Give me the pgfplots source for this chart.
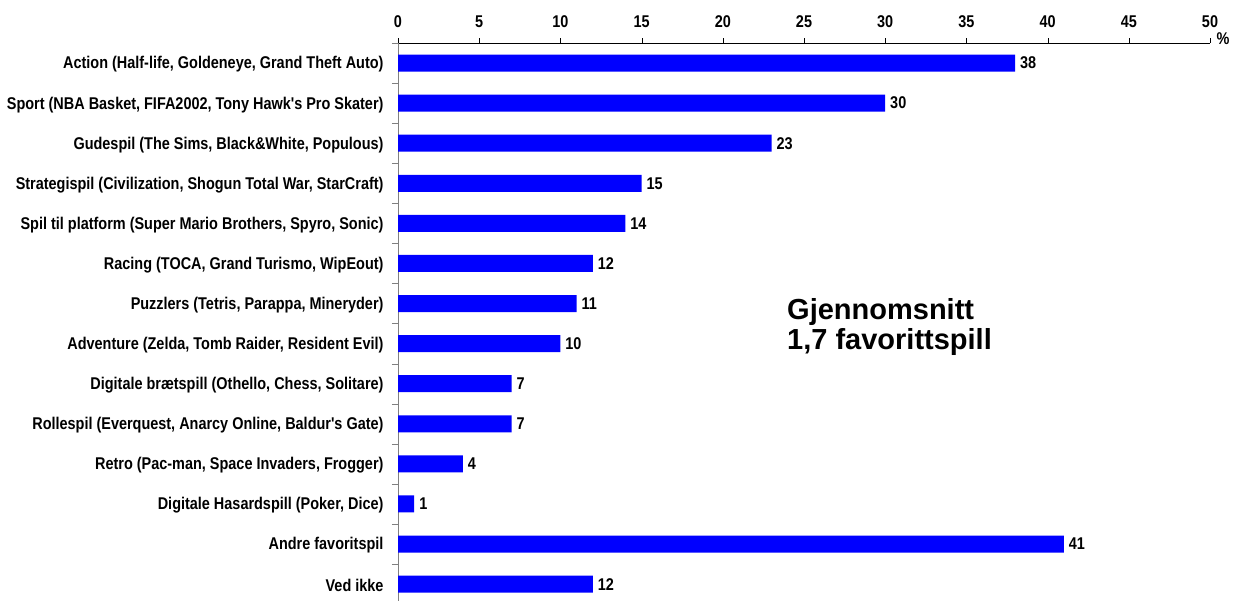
\documentclass[border=0pt]{standalone}
\usepackage{pgfplots}
\pgfplotsset{compat=1.18}
\usepackage{fontspec}
\setmainfont{Liberation Sans}[Ligatures=TeXOff, FakeStretch=0.85]
\newfontfamily\widefont{Liberation Sans}[Ligatures=TeXOff]
\pgfplotstableread{
y v
0 38
1 30
2 23
3 15
4 14
5 12
6 11
7 10
8 7
9 7
10 4
11 1
12 41
13 12
}\datatable
\begin{document}
\begin{tikzpicture}[font=\fontsize{17}{19}\selectfont\bfseries]
\begin{axis}[
  at={(398pt,-43pt)}, anchor=north west,
  scale only axis, width=812pt, height=561.12pt,
  xmin=0, xmax=50, ymin=-0.5, ymax=13.5, y dir=reverse,
  xbar, bar width=17pt, bar shift=0pt,
  axis x line=top, axis y line=left,
  x axis line style={-,black},
  y axis line style={-,gray},
  /pgf/number format/assume math mode=true,
  xtick={0,5,...,50},
  tick align=outside,
  major tick length=5pt,
  minor tick length=6pt,
  x tick style={black},
  xticklabel style={yshift=7pt},
  ytick={0,...,13},
  major y tick style={draw=none},
  minor ytick={-0.5,0.5,...,13.5},
  minor y tick style={gray},
  yticklabel style={anchor=east, xshift=-6pt, yshift=-1.5pt},
  yticklabels={
    {Action (Half-life, Goldeneye, Grand Theft Auto)},
    {Sport (NBA Basket, FIFA2002, Tony Hawk's Pro Skater)},
    {Gudespil (The Sims, Black\&White, Populous)},
    {Strategispil (Civilization, Shogun Total War, StarCraft)},
    {Spil til platform (Super Mario Brothers, Spyro, Sonic)},
    {Racing (TOCA, Grand Turismo, WipEout)},
    {Puzzlers (Tetris, Parappa, Mineryder)},
    {Adventure (Zelda, Tomb Raider, Resident Evil)},
    {Digitale brætspill (Othello, Chess, Solitare)},
    {Rollespil (Everquest, Anarcy Online, Baldur's Gate)},
    {Retro (Pac-man, Space Invaders, Frogger)},
    {Digitale Hasardspill (Poker, Dice)},
    {Andre favoritspil},
    {Ved ikke}},
  nodes near coords,
  nodes near coords align={horizontal},
  every node near coord/.append style={black, xshift=1.5pt, font=\fontsize{17}{19}\selectfont\bfseries},
  clip=false,
]
\addplot[fill=blue, draw=none] table[x=v, y=y] {\datatable};
\end{axis}
\node[anchor=center, inner sep=0pt] at (1223pt,-38.5pt) {\%};
\node[anchor=base west, inner sep=0pt, font=\widefont\fontsize{29}{32}\selectfont\bfseries] at (787pt,-320pt) {Gjennomsnitt};
\node[anchor=base west, inner sep=0pt, font=\widefont\fontsize{29}{32}\selectfont\bfseries] at (787pt,-350pt) {1,7 favorittspill};
\pgfresetboundingbox
\useasboundingbox (0pt,0pt) rectangle (1239pt,-601pt);
\end{tikzpicture}
\end{document}
